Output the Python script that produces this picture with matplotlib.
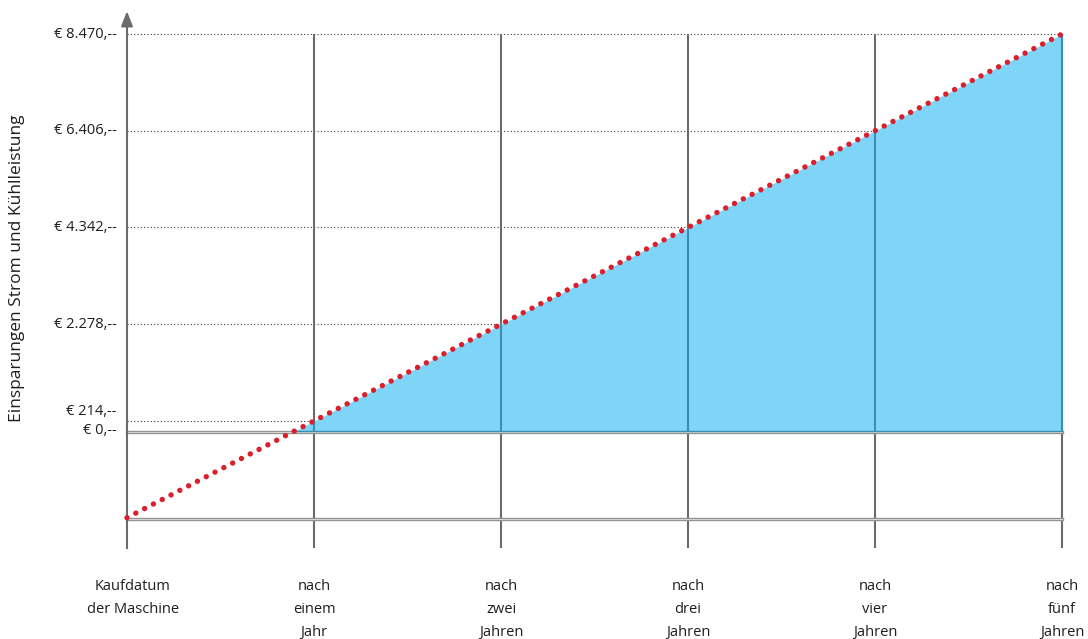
import matplotlib
matplotlib.use("Agg")
import matplotlib.pyplot as plt
import matplotlib.transforms as mtransforms
import numpy as np

plt.rcParams['font.family'] = ['Open Sans', 'DejaVu Sans']

# Data
years = [0, 1, 2, 3, 4, 5]
savings = [-1850, 214, 2278, 4342, 6406, 8470]
tick_values = [8470, 6406, 4342, 2278, 214, 0]
tick_labels = ["€ 8.470,--", "€ 6.406,--", "€ 4.342,--", "€ 2.278,--", "€ 214,--", "€ 0,--"]
category_labels = ["Kaufdatum\nder Maschine", "nach\neinem\nJahr", "nach\nzwei\nJahren",
                   "nach\ndrei\nJahren", "nach\nvier\nJahren", "nach\nfünf\nJahren"]
y_title = "Einsparungen Strom und Kühlleistung"

fig = plt.figure(figsize=(10.88, 6.39), dpi=100)
ax = fig.add_axes([0, 0, 1, 1])
ax.set_xlim(-0.679, 5.139)
ax.set_ylim(-4438, 9196)
ax.axis("off")

x = np.array(years, dtype=float)
y = np.array(savings, dtype=float)
y_bottom = -2496
axis_color = "#6b6b6b"
text_color = "#1e1e1e"

# dotted reference lines for the labelled amounts
for v in tick_values[:-1]:
    ax.plot([0, 5], [v, v], color="#3a3a3a", lw=0.8, linestyle=(0, (1, 2)), zorder=1)

# vertical year lines
ax.vlines(x[1:], y_bottom, max(savings), color=axis_color, lw=1.5, zorder=2)

# double horizontal lines at zero and at the starting value
off = mtransforms.offset_copy(ax.transData, fig=fig, x=0, y=-1.2, units="dots")
for v in [0, savings[0]]:
    ax.plot([0, 5], [v, v], color="#929292", lw=2.4, zorder=3, transform=off)
    ax.plot([0, 5], [v, v], color="#d6d6d6", lw=0.7, zorder=3, transform=off)

# savings area above zero
ax.fill_between(x, 0, y, where=y >= 0, interpolate=True, color="#7fd5f7", lw=0, zorder=4)

# year lines seen through the filled area
pos = y > 0
x_cross = x[0] + (0 - y[0]) / (y[1] - y[0]) * (x[1] - x[0])
ax.vlines(x[pos], 0, y[pos], color="#3b8db2", lw=1.5, zorder=5)
ax.plot([x_cross, 5], [0, 0], color="#3b8db2", lw=1.0, zorder=5)

# y axis with arrow
ax.plot([0, 0], [y_bottom, 8700], color=axis_color, lw=1.5, zorder=6)
ax.annotate("", xy=(0, 8960), xytext=(0, 8600),
            arrowprops=dict(arrowstyle="-|>,head_length=0.9,head_width=0.35",
                            color=axis_color, lw=1.5, shrinkA=0, shrinkB=0), zorder=6)

# savings line (round dots)
ax.plot(x, y, color="#d9202c", lw=3.9, linestyle=(0, (0.01, 1.82)),
        dash_capstyle="round", zorder=7)

# y tick labels
for v, lab in zip(tick_values, tick_labels):
    dy = 9 if v == 214 else 0
    t = mtransforms.offset_copy(ax.transData, fig=fig, x=-10, y=dy, units="dots")
    ax.text(0, v, lab, transform=t, ha="right", va="center", fontsize=10.5,
            color=text_color)

# category labels, one row per line
row_offsets = [-156, -179, -202]
for xi, lab in zip(years, category_labels):
    for k, part in enumerate(lab.split("\n")):
        t = mtransforms.offset_copy(ax.transData, fig=fig, x=0, y=row_offsets[k], units="dots")
        ax.text(xi + (0.03 if xi == 0 else 0.0), 0, part, transform=t,
                ha="center", va="center", fontsize=10.5, color=text_color)

# axis title
ax.text(-0.59, 3480, y_title, rotation=90, ha="center", va="center",
        fontsize=12.5, color=text_color)

fig.savefig("out.png", dpi=100)
